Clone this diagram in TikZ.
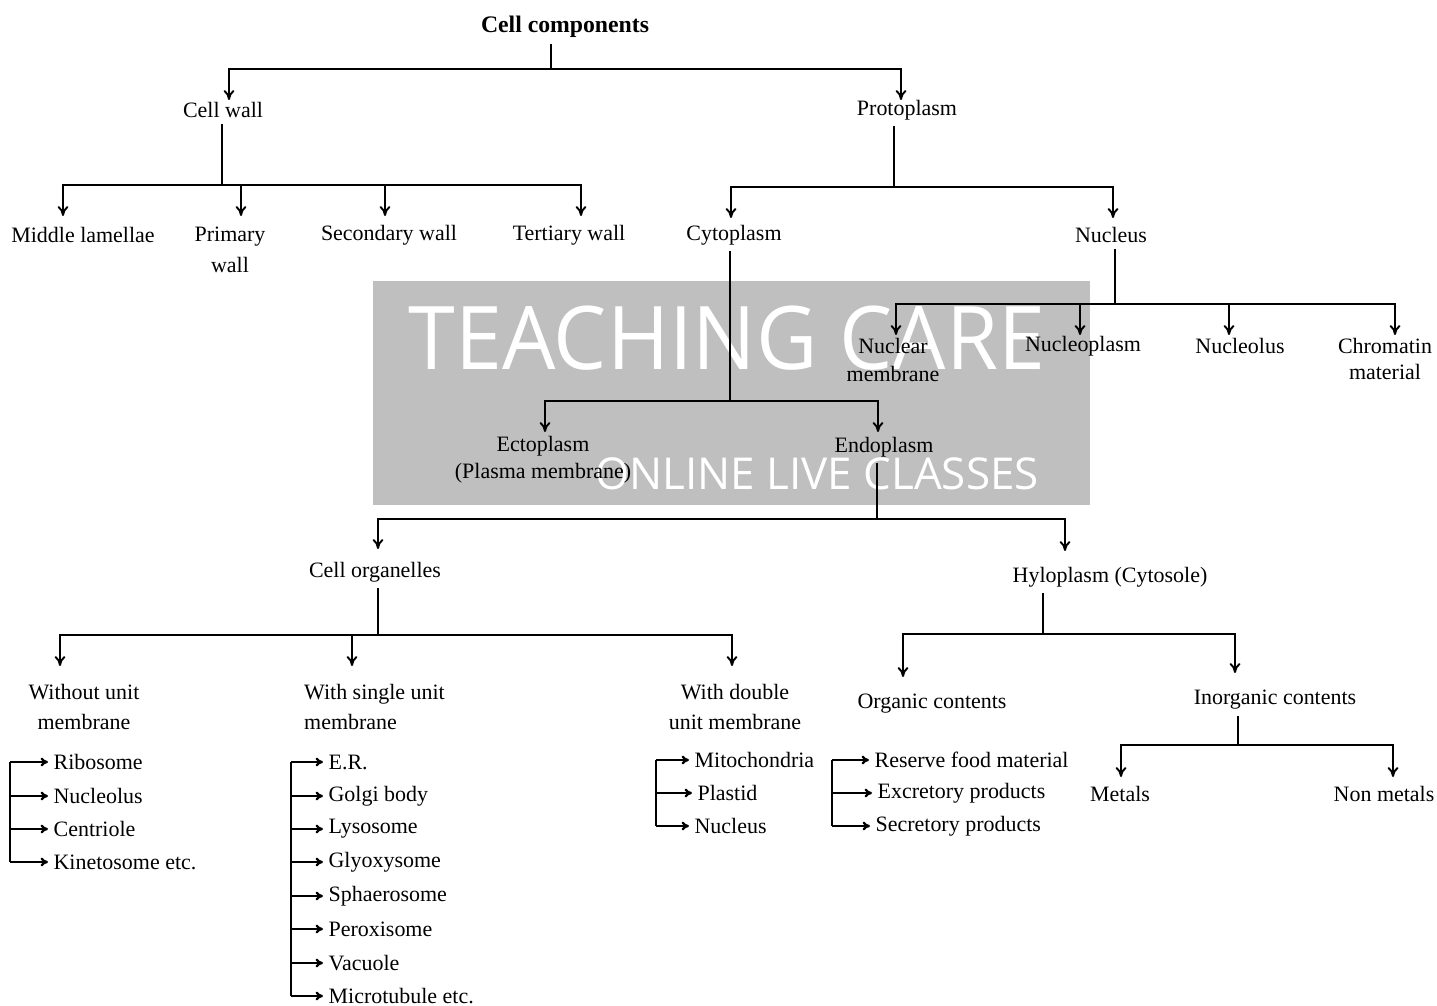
\documentclass[tikz,border=0pt]{standalone}
\usepackage{fontspec}
\setmainfont{Liberation Serif}
\newfontfamily\wmfont{Open Sans}
\usetikzlibrary{arrows.meta}

\begin{document}
\begin{tikzpicture}[x=0.02cm,y=-0.02cm,
  every node/.style={font=\fontsize{12.5}{17.6}\selectfont, align=center},
  stem/.style={line width=0.6pt},
  arr/.style={line width=1.1pt,-{To[length=2mm,width=2.2mm]}},
  spine/.style={line width=0.9pt},
  larr/.style={line width=1.3pt,-{To[length=1.5mm,width=1.8mm]}},
  item/.style={anchor=west,inner xsep=3pt}]

	\useasboundingbox (0,0) rectangle (1437,1006);

	% watermark
	\fill[black!25] (373,281) rectangle (1090,505);
	\node[font=\wmfont\fontsize{50}{50}\selectfont, text=white, xscale=.96] (wmtop) at (727,338) {TEACHING CARE};
	\node[font=\wmfont\fontsize{25}{25}\selectfont, text=white] (wmbot) at (817,474) {ONLINE LIVE CLASSES};

	% top levels
	\node[font=\bfseries\fontsize{13.5}{16}\selectfont] (cellcomp) at (565,27) {Cell components};
	\node (cellwall) at (223,110) {Cell wall};
	\node (proto) at (907,110) {Protoplasm};

	\node (midlam) at (83,235) {Middle lamellae};
	\node (primary) at (230,250) {Primary\\wall};
	\node (secwall) at (389,235) {Secondary wall};
	\node (terwall) at (569,235) {Tertiary wall};
	\node (cyto) at (734,235) {Cytoplasm};
	\node (nucleus) at (1111,235) {Nucleus};

	\node (nucmem) at (893,360) {Nuclear\\[-1.2pt]membrane};
	\node (nucplasm) at (1083,346) {Nucleoplasm};
	\node (nucleolus) at (1240,346) {Nucleolus};
	\node (chromatin) at (1385,359) {Chromatin\\[-3pt]material};
	\node (ecto) at (543,460) {Ectoplasm\\[-2.3pt](Plasma membrane)};
	\node (endo) at (884,447) {Endoplasm};

	\node (organelles) at (375,572) {Cell organelles};
	\node (hylo) at (1110,577) {Hyloplasm (Cytosole)};

	\node (without) at (84,707) {Without unit\\membrane};
	\node[anchor=west, align=left] (single) at (298,707) {With single unit\\membrane};
	\node (double) at (735,707) {With double\\unit membrane};
	\node (organic) at (932,704) {Organic contents};
	\node (inorganic) at (1275,700) {Inorganic contents};
	\node (metals) at (1120,794) {Metals};
	\node (nonmetals) at (1384,794) {Non metals};

	% lists
	\node[item] (ribosome) at (48,762) {Ribosome};
	\node[item] (nucleolusb) at (48,796) {Nucleolus};
	\node[item] (centriole) at (48,829) {Centriole};
	\node[item] (kinetosome) at (48,862) {Kinetosome etc.};

	\node[item] (er) at (323,762) {E.R.};
	\node[item] (golgi) at (323,796) {Golgi body};
	\node[item] (lysosome) at (323,829) {Lysosome};
	\node[item] (glyoxysome) at (323,862) {Glyoxysome};
	\node[item] (sphaerosome) at (323,896) {Sphaerosome};
	\node[item] (peroxisome) at (323,929) {Peroxisome};
	\node[item] (vacuole) at (323,963) {Vacuole};
	\node[item] (microtubule) at (323,996) {Microtubule etc.};

	\node[item] (mito) at (689,760) {Mitochondria};
	\node[item] (plastid) at (692,793) {Plastid};
	\node[item] (nucleusb) at (689,826) {Nucleus};

	\node[item] (reserve) at (869,760) {Reserve food material};
	\node[item] (excretory) at (872,793) {Excretory products};
	\node[item] (secretory) at (870,826) {Secretory products};

	% junctions and arrow tips
	\coordinate (cc-j) at (551,69);
	\coordinate (cellwall-t) at (229,100);
	\coordinate (proto-t) at (901,100);

	\coordinate (cw-j) at (222,185);
	\coordinate (midlam-t) at (63,216);
	\coordinate (primary-t) at (241,216);
	\coordinate (secwall-t) at (385,216);
	\coordinate (terwall-t) at (581,216);

	\coordinate (pr-j) at (894,187);
	\coordinate (cyto-t) at (731,218);
	\coordinate (nucleus-t) at (1113,218);

	\coordinate (nu-j) at (1115,304);
	\coordinate (nucmem-t) at (896,335);
	\coordinate (nucplasm-t) at (1080,335);
	\coordinate (nucleolus-t) at (1229,335);
	\coordinate (chromatin-t) at (1395,335);

	\coordinate (cy-j) at (730,401);
	\coordinate (ecto-t) at (545,432);
	\coordinate (endo-t) at (878,432);

	\coordinate (en-j) at (877,519);
	\coordinate (organelles-t) at (378,549);
	\coordinate (hylo-t) at (1065,551);

	\coordinate (or-j) at (378,635);
	\coordinate (without-t) at (60,666);
	\coordinate (single-t) at (352,666);
	\coordinate (double-t) at (732,666);

	\coordinate (hy-j) at (1043,634);
	\coordinate (organic-t) at (903,677);
	\coordinate (inorganic-t) at (1235,673);

	\coordinate (in-j) at (1238,745);
	\coordinate (metals-t) at (1121,777);
	\coordinate (nonmetals-t) at (1393,777);

	% tree connectors
	\draw[stem] (cellcomp.south -| cc-j) -- (cc-j);
	\foreach \c in {cellwall,proto} \draw[arr] (cc-j) -| (\c-t);

	\draw[stem] (cellwall.south -| cw-j) -- (cw-j);
	\foreach \c in {midlam,primary,secwall,terwall} \draw[arr] (cw-j) -| (\c-t);

	\draw[stem] (proto.south -| pr-j) -- (pr-j);
	\foreach \c in {cyto,nucleus} \draw[arr] (pr-j) -| (\c-t);

	\draw[stem] (nucleus.south -| nu-j) -- (nu-j);
	\foreach \c in {nucmem,nucplasm,nucleolus,chromatin} \draw[arr] (nu-j) -| (\c-t);

	\draw[stem] (cyto.south -| cy-j) -- (cy-j);
	\foreach \c in {ecto,endo} \draw[arr] (cy-j) -| (\c-t);

	\draw[stem] (endo.south -| en-j) -- (en-j);
	\foreach \c in {organelles,hylo} \draw[arr] (en-j) -| (\c-t);

	\draw[stem] (organelles.south -| or-j) -- (or-j);
	\foreach \c in {without,single,double} \draw[arr] (or-j) -| (\c-t);

	\draw[stem] (hylo.south -| hy-j) -- (hy-j);
	\foreach \c in {organic,inorganic} \draw[arr] (hy-j) -| (\c-t);

	\draw[stem] (inorganic.south -| in-j) -- (in-j);
	\foreach \c in {metals,nonmetals} \draw[arr] (in-j) -| (\c-t);

	% list connectors
	\coordinate (wo-s) at (10,0);
	\coordinate (si-s) at (291,0);
	\coordinate (do-s) at (656,0);
	\coordinate (og-s) at (832,0);

	\draw[spine] (ribosome.west -| wo-s) -- (kinetosome.west -| wo-s);
	\foreach \c in {ribosome,nucleolusb,centriole,kinetosome} \draw[larr] (\c.west -| wo-s) -- (\c.west);

	\draw[spine] (er.west -| si-s) -- (microtubule.west -| si-s);
	\foreach \c in {er,golgi,lysosome,glyoxysome,sphaerosome,peroxisome,vacuole,microtubule} \draw[larr] (\c.west -| si-s) -- (\c.west);

	\draw[spine] (mito.west -| do-s) -- (nucleusb.west -| do-s);
	\foreach \c in {mito,plastid,nucleusb} \draw[larr] (\c.west -| do-s) -- (\c.west);

	\draw[spine] (reserve.west -| og-s) -- (secretory.west -| og-s);
	\foreach \c in {reserve,excretory,secretory} \draw[larr] (\c.west -| og-s) -- (\c.west);

\end{tikzpicture}
\end{document}
